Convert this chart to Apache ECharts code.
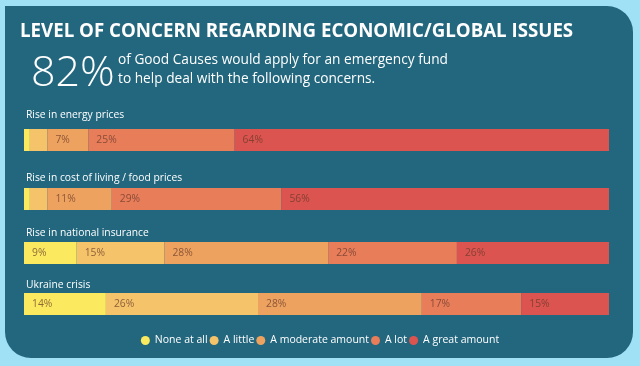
<!DOCTYPE html>
<html><head><meta charset="utf-8">
<script src="https://cdn.jsdelivr.net/npm/echarts@6/dist/echarts.min.js"></script>
<style>html,body{margin:0;padding:0;background:#a0e1f6;}#c{width:640px;height:366px;}</style>
</head><body><div id="c"></div>
<script>
const categories = ['Rise in energy prices', 'Rise in cost of living / food prices', 'Rise in national insurance', 'Ukraine crisis'];
const seriesNames = ['None at all', 'A little', 'A moderate amount', 'A lot', 'A great amount'];
const noneAtAll = [1, 1, 9, 14];
const aLittle = [3, 3, 15, 26];
const moderate = [7, 11, 28, 28];
const aLot = [25, 29, 22, 17];
const greatAmount = [64, 56, 26, 15];
const headline = '82%';
const titleText = 'LEVEL OF CONCERN REGARDING ECONOMIC/GLOBAL ISSUES';
const subLines = ['of Good Causes would apply for an emergency fund', 'to help deal with the following concerns.'];

const values = [noneAtAll, aLittle, moderate, aLot, greatAmount];
const colors = ['#fbe95f', '#f5c36a', '#eea25f', '#e87d5a', '#dc5450'];
const barTops = [129, 188, 242, 293];
const labelPad = [20, 16, 15, 14];
const FONT = '"Open Sans", sans-serif';

const chart = echarts.init(document.getElementById('c'));
const grids = [], xAxes = [], yAxes = [], series = [];
categories.forEach((cat, i) => {
  grids.push({left: 24, right: 31, top: barTops[i], height: 22});
  xAxes.push({type: 'value', gridIndex: i, min: 0, max: 100, show: false});
  yAxes.push({type: 'category', gridIndex: i, data: [cat],
    axisLine: {show: false}, axisTick: {show: false}, splitLine: {show: false},
    axisLabel: {inside: true, margin: 2, align: 'left', verticalAlign: 'bottom',
      padding: [0, 0, labelPad[i], 0], color: '#ffffff', fontSize: 10.3, fontFamily: FONT}});
  seriesNames.forEach((name, s) => {
    series.push({type: 'bar', name: name, stack: 'g' + i, xAxisIndex: i, yAxisIndex: i,
      barWidth: 22, data: [values[s][i]], itemStyle: {color: colors[s]},
      label: {show: values[s][i] >= 5, position: 'insideLeft', distance: 8,
        formatter: '{c}%', color: 'rgba(100,55,40,0.72)', fontSize: 10.3, fontFamily: FONT}});
  });
});

chart.setOption({
  animation: false,
  color: colors,
  grid: grids, xAxis: xAxes, yAxis: yAxes, series: series,
  legend: {data: seriesNames, top: 330, left: 'center', icon: 'circle', itemWidth: 9, itemHeight: 9,
    itemGap: 2, textStyle: {color: '#ffffff', fontSize: 10.5, fontFamily: FONT}},
  graphic: [
    {type: 'rect', z: -10, shape: {x: 5, y: 6, width: 628, height: 352, r: [0, 26, 26, 26]}, style: {fill: '#23677e'}},
    {type: 'text', left: 20, top: 22, style: {text: titleText, fill: '#ffffff', font: 'bold 18.7px ' + FONT}},
    {type: 'text', left: 31, top: 52, style: {text: headline, fill: '#ffffff', font: '300 43px ' + FONT}},
    {type: 'text', left: 118, top: 53, style: {text: subLines[0], fill: '#ffffff', font: '13.7px ' + FONT}},
    {type: 'text', left: 118, top: 72, style: {text: subLines[1], fill: '#ffffff', font: '13.7px ' + FONT}}
  ]
});
</script></body></html>
